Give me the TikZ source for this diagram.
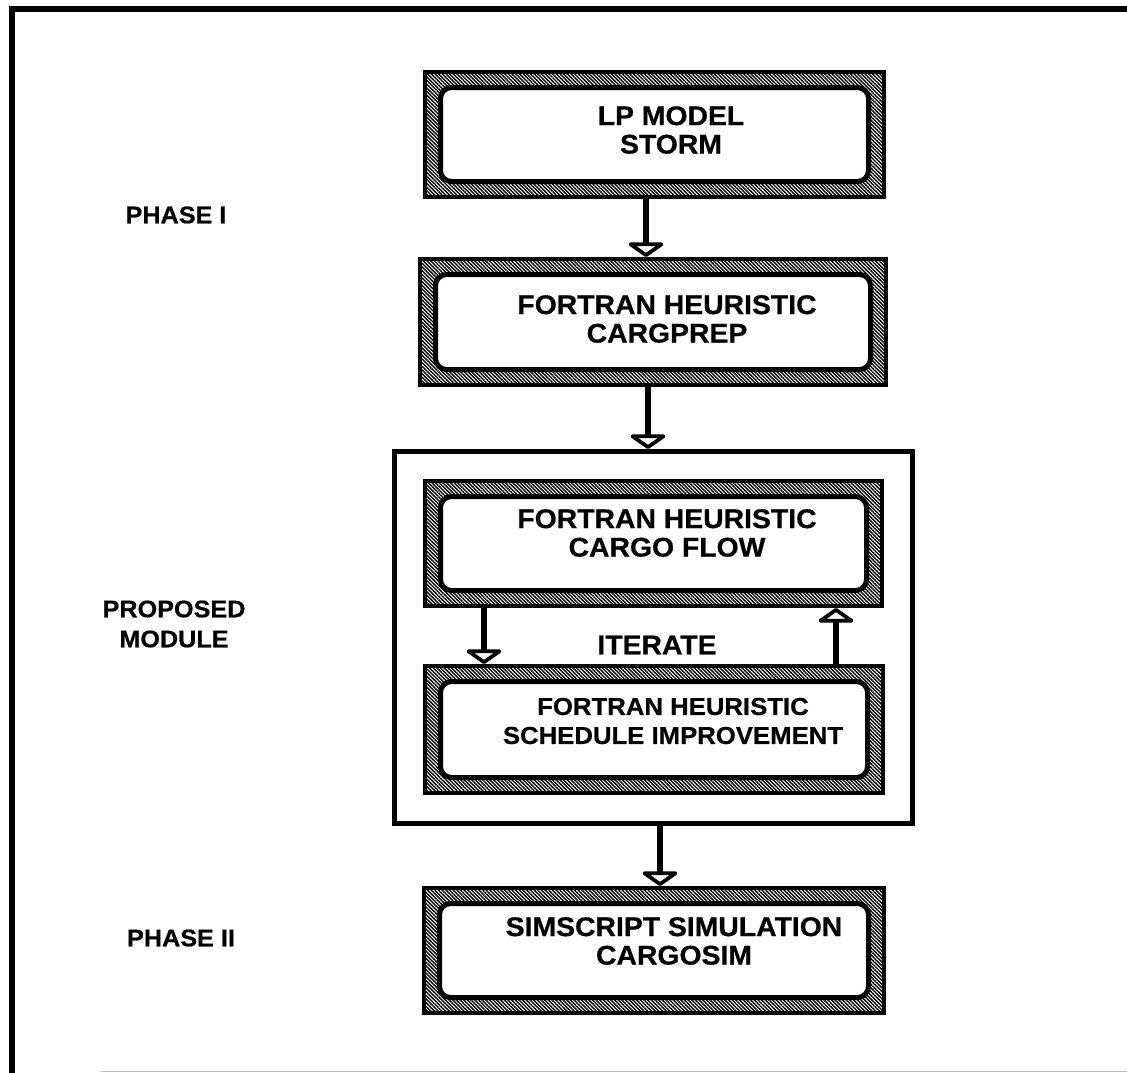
\documentclass[tikz,border=0pt]{standalone}
\usepackage{fontspec}
\setmainfont{Liberation Sans}[FakeStretch=1.05]
\newfontfamily\heavy{Liberation Sans Bold}[FakeStretch=1.05, FakeBold=0.6]
\usetikzlibrary{patterns.meta,arrows.meta}

\tikzset{
  x=1pt, y=-1pt,
  % hatched frame of a program block
  hatchbox/.style={draw=black, line width=4pt, inner sep=0pt, outer sep=2pt,
    pattern={Lines[angle=-45,distance=2.6pt,line width=1.4pt]}},
  % white rounded panel inside the hatched frame
  panel/.style={draw=black, fill=white, line width=5pt, rounded corners=11pt, inner sep=0pt},
  modbox/.style={draw=black, line width=5pt, inner sep=0pt, outer sep=2.5pt},
  lbl/.style={font=\heavy\fontsize{27}{28.5}\selectfont, align=center, inner sep=0pt},
  smalllbl/.style={lbl, font=\heavy\fontsize{24.5}{29}\selectfont},
  side/.style={font=\heavy\fontsize{24}{30}\selectfont, align=center, inner sep=0pt},
  flow/.style={line width=6pt,
    -{Triangle[width=42pt,length=15pt,line width=5pt,fill=white,round]}},
}

\begin{document}
\begin{tikzpicture}
\useasboundingbox (0,0) rectangle (1127,1073);

% page frame
\draw[line width=6pt] (1127,9.5) -- (11.5,9.5) -- (11.5,1073);
\draw[black!25, line width=1.5pt] (100,1071.5) -- (1127,1071.5);

% proposed module enclosure
\node[modbox, minimum width=518pt, minimum height=372pt] (mod) at (653.5,637.5) {};

% program blocks
\node[hatchbox, minimum width=459pt, minimum height=125pt] (b1) at (654.5,134.5) {};
\node[panel, minimum width=428pt, minimum height=94pt] (p1) at (b1.center) {};
\node[hatchbox, minimum width=466pt, minimum height=126pt] (b2) at (653,322) {};
\node[panel, minimum width=435pt, minimum height=95pt] (p2) at (b2.center) {};
\node[hatchbox, minimum width=457pt, minimum height=125pt] (b3) at (653.5,543.5) {};
\node[panel, minimum width=426pt, minimum height=94pt] (p3) at (b3.center) {};
\node[hatchbox, minimum width=458pt, minimum height=127pt] (b4) at (654,729.5) {};
\node[panel, minimum width=427pt, minimum height=96pt] (p4) at (b4.center) {};
\node[hatchbox, minimum width=460pt, minimum height=125pt] (b5) at (654,950.5) {};
\node[panel, minimum width=429pt, minimum height=94pt] (p5) at (b5.center) {};

% block captions
\node[lbl] (t1) at (671,130) {LP MODEL\\STORM};
\node[lbl] (t2) at (667,319) {FORTRAN HEURISTIC\\CARGPREP};
\node[lbl] (t3) at (667,533) {FORTRAN HEURISTIC\\CARGO FLOW};
\node[smalllbl] (t4) at (673,721) {FORTRAN HEURISTIC\\SCHEDULE IMPROVEMENT};
\node[lbl] (t5) at (674,941) {SIMSCRIPT SIMULATION\\CARGOSIM};

% side labels
\node[side] (ph1) at (176,215) {PHASE I};
\node[side] (pm) at (174,624) {PROPOSED\\MODULE};
\node[side] (ph2) at (181,938) {PHASE II};
\node[lbl] (it) at (657,645) {ITERATE};

% flow arrows
\draw[flow] (646,0 |- b1.south) -- (646,0 |- b2.north);
\draw[flow] (648,0 |- b2.south) -- (648,0 |- mod.north);
\draw[flow] (484,0 |- b3.south) -- (484,0 |- b4.north);
\draw[flow] (836,0 |- b4.north) -- (836,0 |- b3.south);
\draw[flow] (660,0 |- mod.south) -- (660,0 |- b5.north);
\end{tikzpicture}
\end{document}
